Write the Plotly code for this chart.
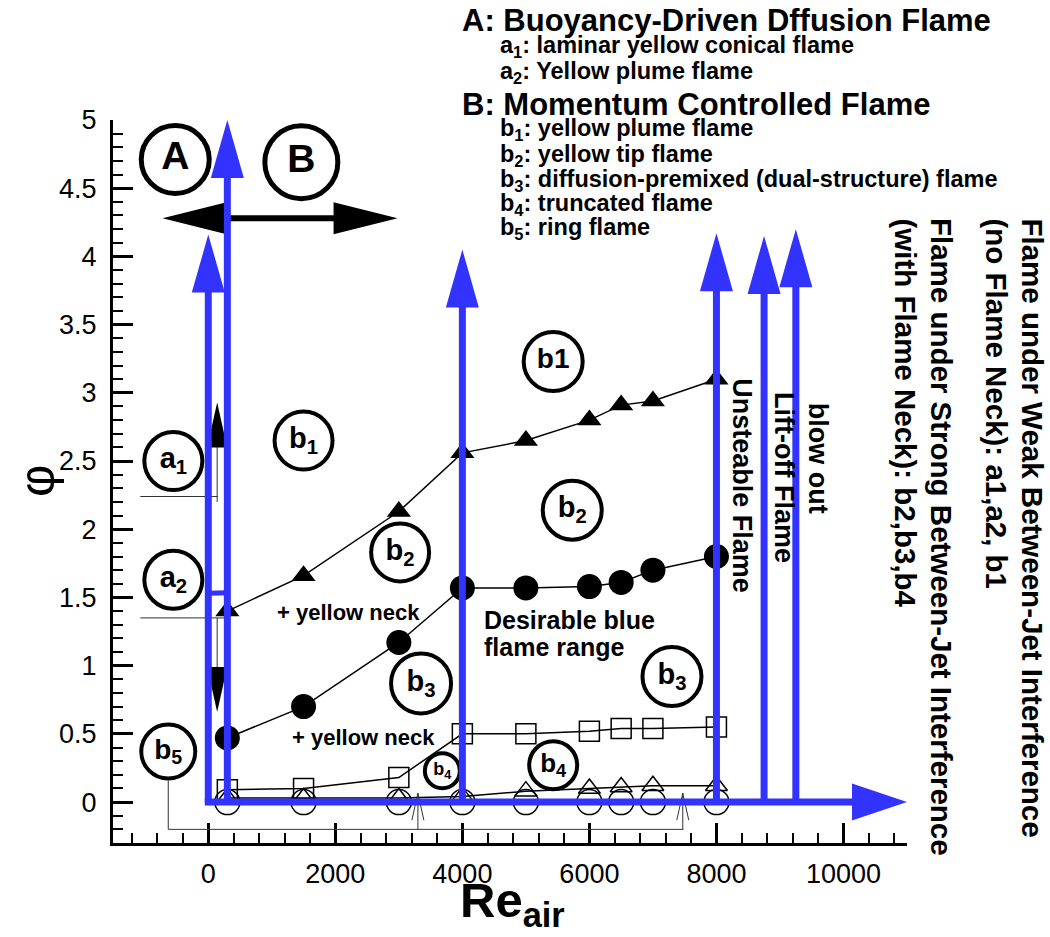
import plotly.graph_objects as go

# ---------------- data ----------------
re_air = [300, 1500, 3000, 4000, 5000, 6000, 6500, 7000, 8000]
phi_b1_b2 = [1.40, 1.66, 2.13, 2.56, 2.65, 2.80, 2.91, 2.94, 3.10]   # filled triangles
phi_b2_b3 = [0.47, 0.70, 1.17, 1.57, 1.57, 1.58, 1.61, 1.70, 1.80]   # filled circles
phi_b3_b4 = [0.09, 0.10, 0.18, 0.50, 0.50, 0.52, 0.54, 0.54, 0.55]   # open squares
phi_b4_up = [0.03, 0.03, 0.03, 0.04, 0.08, 0.10, 0.11, 0.12, 0.12]   # open triangles
phi_b5_up = [0.00, 0.00, 0.00, 0.00, 0.00, 0.00, 0.00, 0.00, 0.00]   # open circles

# regime boundaries (blue arrows): Re position and arrow tip in phi
boundary_re = [0, 300, 4000, 8000, 8750, 9250]
boundary_tip = [4.16, 5.00, 4.05, 4.17, 4.15, 4.20]
re_axis_end = 11000

# region bubbles
bubble_x = [-520, 1465, -550, -550, 1500, 3020, 3350, -630, 3685, 5430, 7300, 5430, 5730]
bubble_y = [4.71, 4.69, 2.50, 1.63, 2.65, 1.83, 0.87, 0.37, 0.23, 0.27, 0.92, 3.23, 2.14]
bubble_lbl = ['A', 'B', 'a<sub>1</sub>', 'a<sub>2</sub>', 'b<sub>1</sub>', 'b<sub>2</sub>',
              'b<sub>3</sub>', 'b<sub>5</sub>', 'b<sub>4</sub>', 'b<sub>4</sub>',
              'b<sub>3</sub>', 'b1', 'b<sub>2</sub>']

x_ticks = [0, 2000, 4000, 6000, 8000, 10000]
y_ticks = [0, 0.5, 1, 1.5, 2, 2.5, 3, 3.5, 4, 4.5, 5]

legend_lines = [
    ('A: Buoyancy-Driven Dffusion Flame', 'h'),
    ('a<sub>1</sub>: laminar yellow conical flame', 's'),
    ('a<sub>2</sub>: Yellow plume flame', 's'),
    ('B: Momentum Controlled Flame', 'h'),
    ('b<sub>1</sub>: yellow plume flame', 's'),
    ('b<sub>2</sub>: yellow tip flame', 's'),
    ('b<sub>3</sub>: diffusion-premixed (dual-structure) flame', 's'),
    ('b<sub>4</sub>: truncated flame', 's'),
    ('b<sub>5</sub>: ring flame', 's'),
]

# ---------------- layout geometry ----------------
W, H = 1050, 937
M = dict(l=113, r=143, t=120, b=94)
XR = [-1500, 11000]
YR = [-0.3, 5.0]
PW = W - M['l'] - M['r']
PH = H - M['t'] - M['b']
kx = PW / (XR[1] - XR[0])
ky = PH / (YR[1] - YR[0])
FONT = 'Liberation Sans, Arial, sans-serif'
BLUE = '#3333ff'


def paper(xp, yp):
    return (xp - M['l']) / PW, (H - M['b'] - yp) / PH


def head(xt, yt, ux, uy, L, Wd, color):
    bx, by = -ux * L, -uy * L
    px_, py_ = -uy * Wd / 2, ux * Wd / 2
    pts = [(0, 0), (bx + px_, by + py_), (bx - px_, by - py_)]
    path = 'M ' + ' L '.join(f'{xt + dx / kx:.3f},{yt + dy / ky:.5f}' for dx, dy in pts) + ' Z'
    return dict(type='path', path=path, fillcolor=color, line=dict(width=0),
                xref='x', yref='y', layer='above')


def seg(x0, y0, x1, y1, color, width):
    return dict(type='line', x0=x0, y0=y0, x1=x1, y1=y1, xref='x', yref='y',
                line=dict(color=color, width=width), layer='above')


fig = go.Figure()

# data series
line_style = dict(color='black', width=1.5)
fig.add_trace(go.Scatter(x=re_air, y=phi_b5_up, mode='lines+markers', line=line_style,
                         marker=dict(symbol='circle-open', size=25, color='black',
                                     line=dict(width=1.5, color='black')),
                         cliponaxis=False, showlegend=False))
fig.add_trace(go.Scatter(x=re_air, y=phi_b4_up, mode='lines+markers', line=line_style,
                         marker=dict(symbol='triangle-up-open', size=19, color='black',
                                     line=dict(width=1.5, color='black')),
                         cliponaxis=False, showlegend=False))
fig.add_trace(go.Scatter(x=re_air, y=phi_b3_b4, mode='lines+markers', line=line_style,
                         marker=dict(symbol='square-open', size=20, color='black',
                                     line=dict(width=1.5, color='black')),
                         cliponaxis=False, showlegend=False))
fig.add_trace(go.Scatter(x=re_air, y=phi_b2_b3, mode='lines+markers', line=line_style,
                         marker=dict(symbol='circle', size=25, color='black'),
                         cliponaxis=False, showlegend=False))
fig.add_trace(go.Scatter(x=re_air, y=phi_b1_b2, mode='lines+markers', line=line_style,
                         marker=dict(symbol='triangle-up', size=21, color='black'),
                         cliponaxis=False, showlegend=False))

# bubbles
bub_size = [68, 73, 58, 58, 58, 58, 60, 54, 35, 48, 59, 59, 59]
bub_lw = [5, 5, 4, 4, 4, 4, 4, 4, 4, 4, 4, 4, 4]
bub_font = [39, 39, 29, 29, 29, 29, 29, 28, 18, 26, 29, 28, 29]
fig.add_trace(go.Scatter(x=bubble_x, y=bubble_y, mode='markers+text',
                         text=[f'<b>{t}</b>' for t in bubble_lbl], textposition='middle center',
                         textfont=dict(family=FONT, size=bub_font, color='black'),
                         marker=dict(symbol='circle-open', size=bub_size, color='#000000',
                                     opacity=1, line=dict(width=bub_lw, color='#000000')),
                         cliponaxis=False, showlegend=False))

shapes = []
# black A/B double arrow
ya = 4.28
shapes.append(seg(-720 + 60 / kx, ya, 2980 - 60 / kx, ya, 'black', 6))
shapes.append(head(-720, ya, -1, 0, 64, 32, 'black'))
shapes.append(head(2980, ya, 1, 0, 64, 32, 'black'))

# thin leaders for a1 / a2
thin = '#333333'
shapes.append(seg(-1070, 2.24, 150, 2.24, thin, 1))
shapes.append(seg(140, 2.20, 140, 2.62, thin, 1))
shapes.append(head(140, 2.93, 0, 1, 45, 20, 'black'))
shapes.append(seg(-1070, 1.35, 300, 1.35, thin, 1))
shapes.append(seg(140, 1.35, 140, 0.98, thin, 1))
shapes.append(head(140, 0.66, 0, -1, 45, 20, 'black'))

# b5 leader with open arrows
shapes.append(seg(-630, 0.16, -630, -0.2, thin, 1))
shapes.append(seg(-630, -0.2, 7480, -0.2, thin, 1))
for xa in [3300, 7470]:
    tip = 0.065
    shapes.append(seg(xa, -0.2, xa, tip, thin, 1))
    shapes.append(seg(xa, tip, xa - 6 / kx, tip - 27 / ky, thin, 1))
    shapes.append(seg(xa, tip, xa + 6 / kx, tip - 27 / ky, thin, 1))

# blue boundaries
shapes.append(seg(0, 1.53, 300, 1.535, BLUE, 5))
for xb, yt in zip(boundary_re, boundary_tip):
    shapes.append(seg(xb, 0, xb, yt - 56 / ky, BLUE, 7))
    shapes.append(head(xb, yt, 0, 1, 58, 33, BLUE))
shapes.append(seg(-3.5 / kx, 0, re_axis_end - 53 / kx, 0, BLUE, 7))
shapes.append(head(re_axis_end, 0, 1, 0, 55, 37, BLUE))

annotations = []


def ann_data(x, y, text, size, xanchor='center', angle=0):
    annotations.append(dict(x=x, y=y, xref='x', yref='y', text=text, showarrow=False,
                            xanchor=xanchor, yanchor='middle', textangle=angle,
                            font=dict(family=FONT, size=size, color='black')))


def ann_px(xp, yp, text, size, xanchor='left', yanchor='middle', angle=0, bold=True):
    px_, py_ = paper(xp, yp)
    annotations.append(dict(x=px_, y=py_, xref='paper', yref='paper',
                            text=f'<b>{text}</b>' if bold else text, showarrow=False,
                            xanchor=xanchor, yanchor=yanchor, textangle=angle, align='left',
                            font=dict(family=FONT, size=size, color='black')))


ann_data(1055, 1.39, '<b>+ yellow neck</b>', 22, 'left')
ann_data(1290, 0.47, '<b>+ yellow neck</b>', 22, 'left')
ann_data(4315, 1.334, '<b>Desirable blue</b>', 25, 'left')
ann_data(4315, 1.136, '<b>flame range</b>', 25, 'left')
ann_data(8409, 2.32, '<b>Unsteable Flame</b>', 27, 'center', 90)
ann_data(9055, 2.38, '<b>Lift-off Flame</b>', 27, 'center', 90)
ann_data(9590, 2.52, '<b>blow out</b>', 27, 'center', 90)

# legend block at top
leg_y = [20, 47, 72, 104, 130, 155, 180, 204, 228]
for (txt, kind), yy in zip(legend_lines, leg_y):
    if kind == 'h':
        ann_px(460, yy, txt, 31)
    else:
        ann_px(498, yy, txt, 23.5)

# right-side rotated notes
ann_px(1032, 216, 'Flame under Weak Between-Jet Interference', 29.5, 'center', 'top', 90)
ann_px(996, 216, '(no Flame Neck): a1,a2, b1', 29.5, 'center', 'top', 90)
ann_px(942, 216, 'Flame under Strong Between-Jet Interference', 29.5, 'center', 'top', 90)
ann_px(905, 216, '(with Flame Neck): b2,b3,b4', 29.5, 'center', 'top', 90)

# axis titles
ann_px(512, 903, 'Re<sub>air</sub>', 49, 'center', 'middle', 0)
ann_px(37, 481, 'φ', 50, 'center', 'middle', -90, bold=False)

fig.update_layout(
    width=W, height=H, margin=M, plot_bgcolor='white', paper_bgcolor='white',
    shapes=shapes, annotations=annotations, showlegend=False,
    font=dict(family=FONT, color='black'),
    xaxis=dict(range=XR, showgrid=False, zeroline=False, showline=True, linewidth=3,
               linecolor='black', ticks='inside', ticklen=20, tickwidth=3, tickcolor='black',
               tickvals=x_ticks, tickformat='d', ticklabelstandoff=5,
               tickfont=dict(family=FONT, size=27, color='black'),
               minor=dict(dtick=400, tick0=0, ticks='inside', ticklen=10, tickwidth=1.5,
                          tickcolor='black', showgrid=False)),
    yaxis=dict(range=YR, showgrid=False, zeroline=False, showline=True, linewidth=3,
               linecolor='black', ticks='inside', ticklen=20, tickwidth=3, tickcolor='black',
               tickvals=y_ticks, ticklabelstandoff=8,
               tickfont=dict(family=FONT, size=27, color='black'),
               minor=dict(dtick=0.1, tick0=0, ticks='inside', ticklen=10, tickwidth=1.5,
                          tickcolor='black', showgrid=False)),
)

fig.write_html('out.html')
